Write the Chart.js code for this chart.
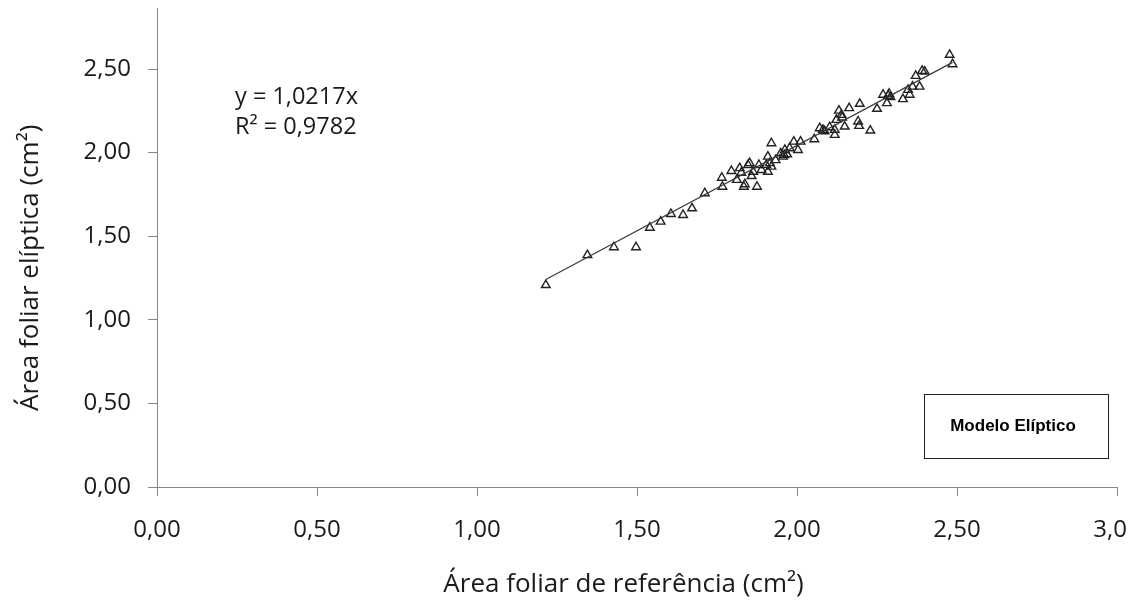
<!DOCTYPE html>
<html lang="pt-br">
<head>
    <meta charset="UTF-8">
    <title>Área foliar elíptica x referência</title>
    <script src="https://cdn.jsdelivr.net/npm/chart.js"></script>
    <style>
        html, body { margin: 0; padding: 0; background: #fff; overflow: hidden; }
        #caixa { width: 1127px; height: 606px; }
    </style>
</head>
<body>
    <div id="caixa">
        <canvas id="graficoElipse" width="1127" height="606"></canvas>
    </div>

<script>
    // valores (área de referência x área elíptica, cm²)
    const areaReferencia = [
        1.215, 1.345, 1.428, 1.497, 1.540, 1.574, 1.606, 1.644, 1.672, 1.712,
        1.767, 1.765, 1.795, 1.812, 1.821, 1.834, 1.837, 1.847, 1.852, 1.863,
        1.875, 1.881, 1.889, 1.904, 1.909, 1.909, 1.920, 1.920, 1.949, 1.956,
        1.962, 1.969, 1.977, 1.990, 2.003, 2.011, 2.054, 2.071, 2.081, 2.102,
        2.118, 2.118, 2.123, 2.131, 2.139, 2.149, 2.163, 2.191, 2.194, 2.196,
        2.229, 2.250, 2.269, 2.281, 2.288, 2.292, 2.331, 2.347, 2.352, 2.361,
        2.371, 2.383, 2.391, 2.399, 2.477, 2.486,
        1.915, 1.933, 1.858, 2.086, 2.285, 2.141, 1.826, 1.960
    ];
    const areaEliptica = [
        1.208, 1.387, 1.434, 1.434, 1.551, 1.587, 1.633, 1.627, 1.667, 1.757,
        1.796, 1.850, 1.890, 1.837, 1.907, 1.796, 1.811, 1.926, 1.937, 1.886,
        1.796, 1.926, 1.896, 1.926, 1.976, 1.886, 2.056, 1.916, 1.996, 1.976,
        2.016, 1.990, 2.026, 2.066, 2.016, 2.066, 2.080, 2.146, 2.136, 2.152,
        2.106, 2.136, 2.196, 2.251, 2.226, 2.156, 2.266, 2.186, 2.160, 2.292,
        2.132, 2.262, 2.346, 2.296, 2.352, 2.332, 2.320, 2.375, 2.346, 2.395,
        2.459, 2.395, 2.489, 2.485, 2.585, 2.529,
        1.937, 1.955, 1.860, 2.128, 2.340, 2.210, 1.880, 1.985
    ];

    // linha de tendência y = 1,0217x
    const inclinacao = 1.0217;
    const tendenciaX = [1.215, 2.486];

    const ticksX = [0, 0.5, 1, 1.5, 2, 2.5, 3];
    const ticksY = [0, 0.5, 1, 1.5, 2, 2.5];

    const textoEquacao = 'y = 1,0217x';
    const textoR2 = 'R² = 0,9782';
    const textoLegenda = 'Modelo Elíptico';

    const pontos = areaReferencia.map((x, i) => ({ x: x, y: areaEliptica[i] }));
    const tendencia = tendenciaX.map(x => ({ x: x, y: inclinacao * x }));

    const fonteTexto = "'Open Sans', sans-serif";
    const corEixo = '#868686';
    const corTexto = '#1a1a1a';

    function virgula(v) {
        return v.toFixed(2).replace('.', ',');
    }

    // equação e caixa do modelo
    const anotacoes = {
        id: 'anotacoes',
        afterDraw(chart) {
            const ctx = chart.ctx;
            ctx.save();
            ctx.fillStyle = corTexto;
            ctx.font = "23.5px " + fonteTexto;
            ctx.textAlign = 'left';
            ctx.textBaseline = 'alphabetic';
            ctx.fillText(textoEquacao, 235, 104);
            ctx.fillText(textoR2, 235, 134);

            ctx.strokeStyle = '#222';
            ctx.lineWidth = 1;
            ctx.strokeRect(924.5, 394.5, 184, 64);
            ctx.fillStyle = '#000';
            ctx.font = "bold 17px 'Liberation Sans', Arial, sans-serif";
            ctx.textAlign = 'center';
            ctx.textBaseline = 'middle';
            ctx.fillText(textoLegenda, 1013, 426);
            ctx.restore();
        }
    };

    new Chart(document.getElementById('graficoElipse'), {
        type: 'scatter',
        data: {
            datasets: [
                {
                    type: 'line',
                    label: 'Tendência',
                    data: tendencia,
                    borderColor: '#3a3a3a',
                    borderWidth: 1.2,
                    pointRadius: 0,
                    fill: false
                },
                {
                    label: 'Modelo Elíptico',
                    data: pontos,
                    pointStyle: 'triangle',
                    pointRadius: 5,
                    borderWidth: 1.4,
                    borderColor: '#222',
                    backgroundColor: 'rgba(255,255,255,0)'
                }
            ]
        },
        options: {
            responsive: false,
            animation: false,
            layout: { padding: { top: 8, right: 10, left: 0, bottom: 0 } },
            plugins: {
                legend: { display: false },
                tooltip: { enabled: false }
            },
            scales: {
                x: {
                    type: 'linear',
                    min: 0,
                    max: 3,
                    afterBuildTicks: s => { s.ticks = ticksX.map(v => ({ value: v })); },
                    afterFit: s => {
                        s.height = 119;
                        s.paddingLeft = 0;
                        s.paddingRight = 0;
                    },
                    grid: {
                        drawOnChartArea: false,
                        drawTicks: true,
                        tickLength: 9,
                        color: corEixo
                    },
                    border: { color: corEixo, width: 1 },
                    ticks: {
                        padding: 20,
                        maxRotation: 0,
                        color: corTexto,
                        font: { family: fonteTexto, size: 24 },
                        callback: v => virgula(v)
                    },
                    title: {
                        display: true,
                        // espaços no fim deslocam o título para a esquerda, como no original
                        text: 'Área foliar de referência (cm²)' + ' '.repeat(4),
                        color: corTexto,
                        font: { family: fonteTexto, size: 26 },
                        padding: { top: 0, bottom: 6 }
                    }
                },
                y: {
                    type: 'linear',
                    min: 0,
                    max: 2.865,
                    afterBuildTicks: s => { s.ticks = ticksY.map(v => ({ value: v })); },
                    afterFit: s => {
                        s.width = 157;
                        s.paddingTop = 0;
                        s.paddingBottom = 0;
                    },
                    grid: {
                        drawOnChartArea: false,
                        drawTicks: true,
                        tickLength: 9,
                        color: corEixo
                    },
                    border: { color: corEixo, width: 1 },
                    ticks: {
                        padding: 17,
                        color: corTexto,
                        font: { family: fonteTexto, size: 24 },
                        callback: v => virgula(v)
                    },
                    title: {
                        display: true,
                        // espaços no fim deslocam o título para baixo
                        text: 'Área foliar elíptica (cm²)' + ' '.repeat(6),
                        color: corTexto,
                        font: { family: fonteTexto, size: 26 },
                        padding: { top: 15, bottom: 0 }
                    }
                }
            }
        },
        plugins: [anotacoes]
    });
</script>
</body>
</html>
